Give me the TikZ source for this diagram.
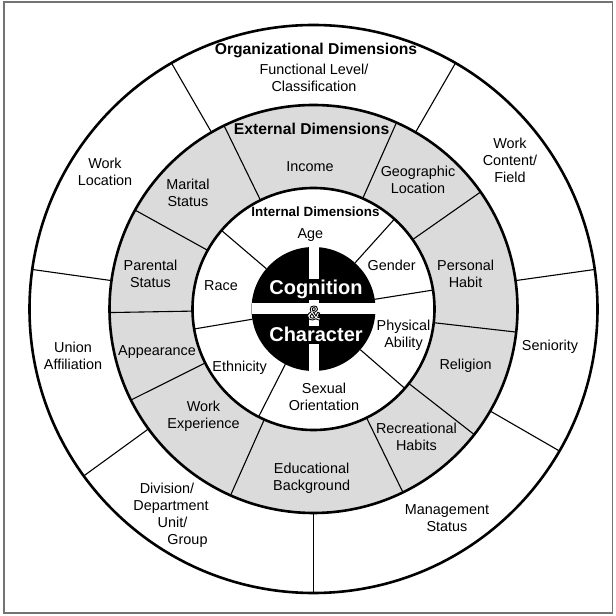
\documentclass[tikz,border=0pt]{standalone}
\usepackage{fontspec}
\setmainfont{Liberation Sans}

% white glyph with a black outline
\newcommand{\outlinetext}[1]{\textcolor{white}{\special{pdf:literal direct 2 Tr 0.9 w 0 G}#1\special{pdf:literal direct 0 Tr}}}

\begin{document}
\begin{tikzpicture}[x=1pt, y=1pt,
    lbl/.style={align=center, inner sep=0pt, font=\fontsize{14.4}{17}\selectfont},
    ttl/.style={inner sep=0pt, font=\fontsize{15.7}{18}\selectfont\bfseries},
    corelbl/.style={text=white, fill=black, inner sep=1.5pt, font=\fontsize{20}{22}\selectfont\bfseries},
    ring/.style={line width=2.6pt},
    divider/.style={line width=1.1pt}]
  \useasboundingbox (0,0) rectangle (616,616);
  \draw[black!55, line width=1.3pt] (4,3) rectangle (612.5,614);
  \coordinate (c) at (313.5,307);

  % ring fills
  \fill[black!14] (c) circle (204);
  \fill[white] (c) circle (121);

  % dividers: organizational, external, internal
  \foreach \ang in {8, 60, 120, 172, 216, 270, 330}
    \draw[divider, shift={(c)}] (\ang:204) -- (\ang:284);
  \foreach \ang in {-64, -38, -6.5, 35, 66, 116, 151, 181, 206.5, 246}
    \draw[divider, shift={(c)}] (\ang:121) -- (\ang:204);
  \foreach \ang in {-41, 9, 48, 139.5, 189.5, 243}
    \draw[divider, shift={(c)}] (\ang:62) -- (\ang:121);

  \draw[ring] (c) circle (284);
  \draw[ring] (c) circle (204);
  \draw[ring] (c) circle (121);

  % core
  \fill (c) circle (62);
  \fill[white, shift={(c)}] (-5,-62) rectangle (5,62);
  \fill[white, shift={(c)}] (-62,-5.5) rectangle (62,5.5);
  \node[corelbl] (cognition) at (316,326.4) {Cognition};
  \node[corelbl] (character) at (316,281.2) {Character};
  \node[inner sep=0pt, font=\fontsize{20}{22}\selectfont\bfseries] (amp) at (314,303) {\outlinetext{\&}};

  % organizational dimensions
  \node[ttl] (orgtitle) at (316,566) {Organizational Dimensions};
  \node[lbl] (funclevel) at (314,538.5) {Functional Level/\\Classification};
  \node[lbl] (workcontent) at (510,456) {Work\\Content/\\Field};
  \node[lbl] (seniority) at (550,269) {Seniority};
  \node[lbl] (mgmt) at (447,98) {Management\\Status};
  \node[lbl] (division) at (171,100.3) {Division/\hspace*{8pt}\\Department\\\hspace*{3pt}Unit/\\\hspace*{33pt}Group};
  \node[lbl] (union) at (73,260) {Union\\Affiliation};
  \node[lbl] (workloc) at (105,444) {Work\\Location};

  % external dimensions
  \node[ttl] (exttitle) at (311.6,487) {External Dimensions};
  \node[lbl] (income) at (310,449) {Income};
  \node[lbl] (geo) at (418,436.5) {Geographic\\Location};
  \node[lbl] (personal) at (465.6,342.5) {Personal\\Habit};
  \node[lbl] (religion) at (465.6,250.6) {Religion};
  \node[lbl] (recreational) at (416.5,179) {Recreational\\Habits};
  \node[lbl] (educational) at (311.6,138) {Educational\\Background};
  \node[lbl] (workexp) at (203.5,199.5) {Work\\Experience};
  \node[lbl] (appearance) at (157,263.5) {Appearance};
  \node[lbl] (parental) at (150.5,342.5) {Parental\\Status};
  \node[lbl] (marital) at (188,423.5) {Marital\\Status};

  % internal dimensions
  \node[inner sep=0pt, font=\fontsize{13.4}{16}\selectfont\bfseries] (inttitle) at (315.5,404) {Internal Dimensions};
  \node[lbl] (age) at (310.4,381.4) {Age};
  \node[lbl] (gender) at (391.7,351) {Gender};
  \node[lbl] (physical) at (403.5,281) {Physical\\Ability};
  \node[lbl] (sexual) at (324,219) {Sexual\\Orientation};
  \node[lbl] (ethnicity) at (239.7,248.6) {Ethnicity};
  \node[lbl] (race) at (221,330) {Race};
\end{tikzpicture}
\end{document}
